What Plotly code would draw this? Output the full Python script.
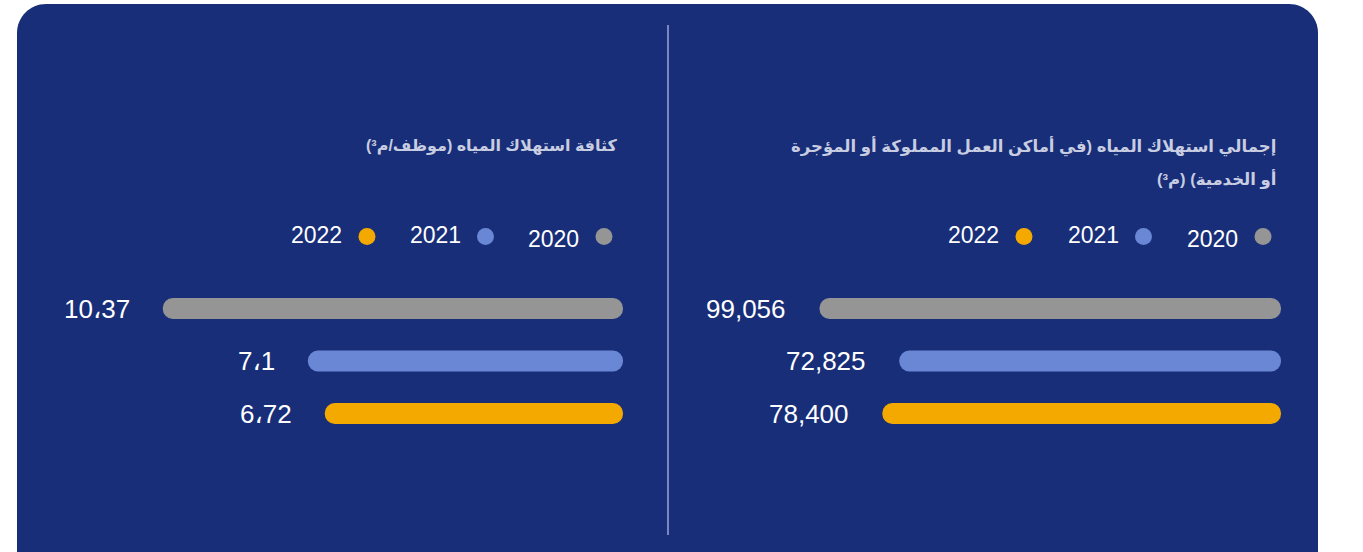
import plotly.graph_objects as go

# ---------------- data ----------------
years = ["2020", "2021", "2022"]
year_colors = ["#959595", "#6a87d6", "#f4a900"]

total_values = [99056, 72825, 78400]
total_labels = ["99,056", "72,825", "78,400"]

intensity_values = [10.37, 7.1, 6.72]
intensity_labels = ["10،37", "7،1", "6،72"]

title_total_lines = [
    "إجمالي استهلاك المياه (في أماكن العمل المملوكة أو المؤجرة",
    "أو الخدمية) (م³)",
]
title_intensity = "كثافة استهلاك المياه (موظف/م³)"

# ---------------- geometry / style ----------------
W, H = 1363, 552
BG = "#182E78"
TITLE_COLOR = "#c8cde2"
FONT = "Arial, 'Liberation Sans', 'DejaVu Sans', sans-serif"
RLE, PDF = "\u202B", "\u202C"


def px_x(p):
    return p / W


def px_y(p):
    return 1 - p / H


# rows (pixels, from top)
ROW_TOP, ROW_H = 282.25, 52.5
BAR_T = 21
ydom = [px_y(ROW_TOP + 3 * ROW_H), px_y(ROW_TOP)]

# right panel axis scale (px per unit, pixel of value 0); bars start at the right edge
R_SCALE, R_ZERO = 0.003042, 1120.8
R_BASE_PX = 1281
R_DOM = (690, 1295)
r_v = lambda p: (R_ZERO - p) / R_SCALE
r_base = r_v(R_BASE_PX)

# left panel axis scale (proportional, value 0 at the bars' right edge)
L_SCALE, L_ZERO = 44.38, 623
L_DOM = (30, 640)
l_v = lambda p: (L_ZERO - p) / L_SCALE
l_base = 0.0

fig = go.Figure()


def add_panel(values, base, xa, ya):
    fig.add_trace(go.Bar(
        y=list(range(len(years))), x=[v - base for v in values], base=base,
        orientation="h", width=BAR_T / ROW_H,
        marker=dict(color=year_colors, cornerradius="50%", line=dict(width=0)),
        xaxis=xa, yaxis=ya, hoverinfo="skip", showlegend=False,
    ))


add_panel(intensity_values, l_base, "x", "y")
add_panel(total_values, r_base, "x2", "y2")

annotations = []
label_font = dict(family=FONT, size=26, color="white")
for i, (v, lab) in enumerate(zip(intensity_values, intensity_labels)):
    annotations.append(dict(x=v, y=i, xref="x", yref="y", text=lab, showarrow=False,
                            xanchor="right", yanchor="middle", xshift=-31, font=label_font))
for i, (v, lab) in enumerate(zip(total_values, total_labels)):
    annotations.append(dict(x=v, y=i, xref="x2", yref="y2", text=lab, showarrow=False,
                            xanchor="right", yanchor="middle", xshift=-31, font=label_font))

# titles
for i, line in enumerate(title_total_lines):
    annotations.append(dict(x=px_x(1278), y=px_y(146 + 33 * i), xref="paper", yref="paper",
                            text=RLE + line + PDF, showarrow=False,
                            xanchor="right", yanchor="middle", align="right",
                            font=dict(family=FONT, size=16.5, color=TITLE_COLOR, weight="bold")))
annotations.append(dict(x=px_x(620), y=px_y(146), xref="paper", yref="paper",
                        text=RLE + title_intensity + PDF, showarrow=False,
                        xanchor="right", yanchor="middle", align="right",
                        font=dict(family=FONT, size=16, color=TITLE_COLOR, weight="bold")))

shapes = []
# background card with rounded top corners
x0, x1, yt, yb, r = 17, 1318, 4, 600, 29
k = 0.5523


def P(x, y):
    return f"{px_x(x)},{px_y(y)}"


path = (f"M {P(x0, yb)} L {P(x0, yt + r)} "
        f"C {P(x0, yt + r * (1 - k))} {P(x0 + r * (1 - k), yt)} {P(x0 + r, yt)} "
        f"L {P(x1 - r, yt)} "
        f"C {P(x1 - r * (1 - k), yt)} {P(x1, yt + r * (1 - k))} {P(x1, yt + r)} "
        f"L {P(x1, yb)} Z")
shapes.append(dict(type="path", path=path, xref="paper", yref="paper",
                   fillcolor=BG, line=dict(width=0), layer="below"))
# divider
shapes.append(dict(type="line", xref="paper", yref="paper",
                   x0=px_x(668), x1=px_x(668), y0=px_y(25), y1=px_y(535),
                   line=dict(color="#9aa5d8", width=1.5), layer="below"))

# custom legends (dot to the right of the year)
for start, step in ((1263, 119.5), (604, 118.5)):
    for i, (yr, c) in enumerate(zip(years, year_colors)):
        cx, cy = start - i * step, 236.5
        shapes.append(dict(type="circle", xref="paper", yref="paper",
                           x0=px_x(cx - 8.5), x1=px_x(cx + 8.5),
                           y0=px_y(cy + 8.5), y1=px_y(cy - 8.5),
                           fillcolor=c, line=dict(width=0)))
        ty = 239 if i == 0 else 235
        annotations.append(dict(x=px_x(cx - 23), y=px_y(ty), xref="paper", yref="paper",
                                text=yr, showarrow=False, xanchor="right", yanchor="middle",
                                font=dict(family=FONT, size=23, color="white")))

axis_common = dict(visible=False, showgrid=False, zeroline=False, fixedrange=True)
fig.update_layout(
    width=W, height=H,
    margin=dict(l=0, r=0, t=0, b=0),
    paper_bgcolor="white", plot_bgcolor="rgba(0,0,0,0)",
    showlegend=False,
    barmode="overlay",
    xaxis=dict(domain=[px_x(L_DOM[0]), px_x(L_DOM[1])],
               range=[l_v(L_DOM[0]), l_v(L_DOM[1])], anchor="y", **axis_common),
    yaxis=dict(domain=ydom, range=[len(years) - 0.5, -0.5], anchor="x", **axis_common),
    xaxis2=dict(domain=[px_x(R_DOM[0]), px_x(R_DOM[1])],
                range=[r_v(R_DOM[0]), r_v(R_DOM[1])], anchor="y2", **axis_common),
    yaxis2=dict(domain=ydom, range=[len(years) - 0.5, -0.5], anchor="x2", **axis_common),
    annotations=annotations,
    shapes=shapes,
)

fig.write_html("out.html", config={"displayModeBar": False},
               post_script="document.body.style.margin='0px';")
